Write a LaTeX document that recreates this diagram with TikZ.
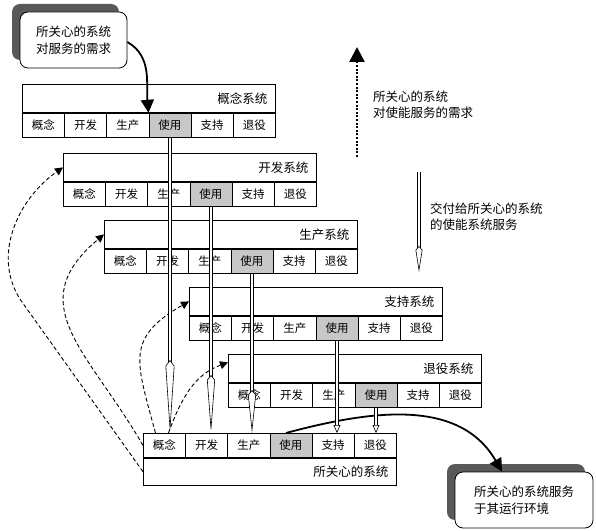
\documentclass[tikz,border=0pt]{standalone}
\usepackage{fontspec}
\setmainfont{Noto Sans CJK SC}
\usetikzlibrary{arrows.meta,shadows,calc}

\definecolor{usegray}{gray}{0.78}
\newcommand\phaselist{概念/white,开发/white,生产/white,使用/usegray,支持/white,退役/white}

\tikzset{
  sysbox/.style={draw,line width=0.8pt,fill=white,minimum height=28pt,text width=237pt,
    align=right,inner xsep=8pt,inner ysep=0pt,anchor=north west,font=\fontsize{12.5}{14}\selectfont},
  phase/.style={draw,line width=0.8pt,minimum width=42.17pt,minimum height=24pt,inner sep=0pt,
    anchor=north west,font=\fontsize{11.5}{13}\selectfont},
  callout/.style={draw,line width=0.8pt,fill=white,rounded corners=8pt,minimum height=56pt,
    align=left,font=\fontsize{12.5}{16.5}\selectfont,
    drop shadow={shadow xshift=-8pt,shadow yshift=8pt,fill=black!65,opacity=1}},
  note/.style={align=left,inner sep=0pt,anchor=west,font=\fontsize{12.5}{16.5}\selectfont},
  bigarrow/.style={line width=1.8pt,-{Triangle[length=13pt,width=13pt]}},
  fb/.style={dash pattern=on 4pt off 2.5pt,line width=0.9pt,-{Triangle[length=8pt,width=8pt]}},
  pipe/.style={double,double distance=2.6pt,line width=0.6pt}
}

\begin{document}
\begin{tikzpicture}[x=1pt,y=1pt]
\useasboundingbox (0,0) rectangle (596,530);

% callouts
\node[callout,minimum width=107pt] (need) at (73.5,490) {所关心的系统\\对服务的需求};
\node[callout,minimum width=138pt] (serve) at (524,30) {所关心的系统服务\\于其运行环境};

% enabling systems
\node[sysbox] (gn) at (22,446) {概念系统};
\foreach \t/\c [count=\i] in \phaselist
  \node[phase,fill=\c,xshift={(\i-1)*42.17pt}] (gn-\i) at (gn.south west) {\t};
\node[sysbox] (kf) at (63,377) {开发系统};
\foreach \t/\c [count=\i] in \phaselist
  \node[phase,fill=\c,xshift={(\i-1)*42.17pt}] (kf-\i) at (kf.south west) {\t};
\node[sysbox] (sc) at (104,310) {生产系统};
\foreach \t/\c [count=\i] in \phaselist
  \node[phase,fill=\c,xshift={(\i-1)*42.17pt}] (sc-\i) at (sc.south west) {\t};
\node[sysbox] (zc) at (189,243) {支持系统};
\foreach \t/\c [count=\i] in \phaselist
  \node[phase,fill=\c,xshift={(\i-1)*42.17pt}] (zc-\i) at (zc.south west) {\t};
\node[sysbox] (ty) at (228,176) {退役系统};
\foreach \t/\c [count=\i] in \phaselist
  \node[phase,fill=\c,xshift={(\i-1)*42.17pt}] (ty-\i) at (ty.south west) {\t};

% system of interest
\foreach \t/\c [count=\i] in \phaselist
  \node[phase,fill=\c] (soi-\i) at ({143+(\i-1)*42.17},97) {\t};
\node[sysbox,minimum height=27pt] (soi) at (soi-1.south west) {所关心的系统};

% feedback to the enabling systems
\coordinate (fb1) at (22,228);
\draw[fb] (soi.west) -- (fb1) to[out=125,in=215] (kf.west);
\draw[fb] (soi-1.west) to[out=120,in=220,looseness=1.3] (sc.west);
\draw[fb] ([xshift=-9pt]soi-1.north) to[out=105,in=210,looseness=1.4] (zc.west);
\draw[fb] ([xshift=4pt]soi-1.north) to[out=70,in=200] ([yshift=6pt]ty.west);

% needs and services
\draw[bigarrow] ([yshift=-2pt]need.east) to[out=-30,in=95] (gn-4.north west);
\draw[bigarrow] ([xshift=-5pt]soi-4.north) to[out=15,in=120] ([xshift=-22pt]serve.north);

% delivered services
\draw[pipe,-{Kite[fill=white,length=73pt,width=9pt,inset=6pt,line width=0.6pt]}]
  (gn-4.south) -- (gn-4.south |- soi-1.north);
\draw[pipe,-{Kite[fill=white,length=58pt,width=8pt,inset=5pt,line width=0.6pt]}]
  (kf-4.south) -- (kf-4.south |- soi-2.north);
\draw[pipe,-{Kite[fill=white,length=43pt,width=8pt,inset=5pt,line width=0.6pt]}]
  (sc-4.south) -- (sc-4.south |- soi-3.north);
\draw[pipe,-{Triangle[fill=white,length=8pt,width=7pt,line width=0.6pt]}]
  (zc-4.south) -- (zc-4.south |- soi-5.north);
\draw[pipe,-{Triangle[fill=white,length=8pt,width=7pt,line width=0.6pt]}]
  (ty-4.south) -- (ty-4.south |- soi-6.north);

% legend
\coordinate (upbot) at (357,373);
\coordinate (uptop) at (357,483);
\draw[line width=2.4pt,dash pattern=on 2pt off 1.6pt,-{Triangle[length=15pt,width=15pt]}] (upbot) -- (uptop);
\node[note] (enneed) at (373,425) {所关心的系统\\对使能服务的需求};
\coordinate (dntop) at (419,358);
\coordinate (dnbot) at (419,258);
\draw[pipe,-{Kite[fill=white,length=26pt,width=7pt,inset=4pt,line width=0.6pt]}] (dntop) -- (dnbot);
\node[note] (endeliver) at (430,313.5) {交付给所关心的系统\\的使能系统服务};
\end{tikzpicture}
\end{document}
